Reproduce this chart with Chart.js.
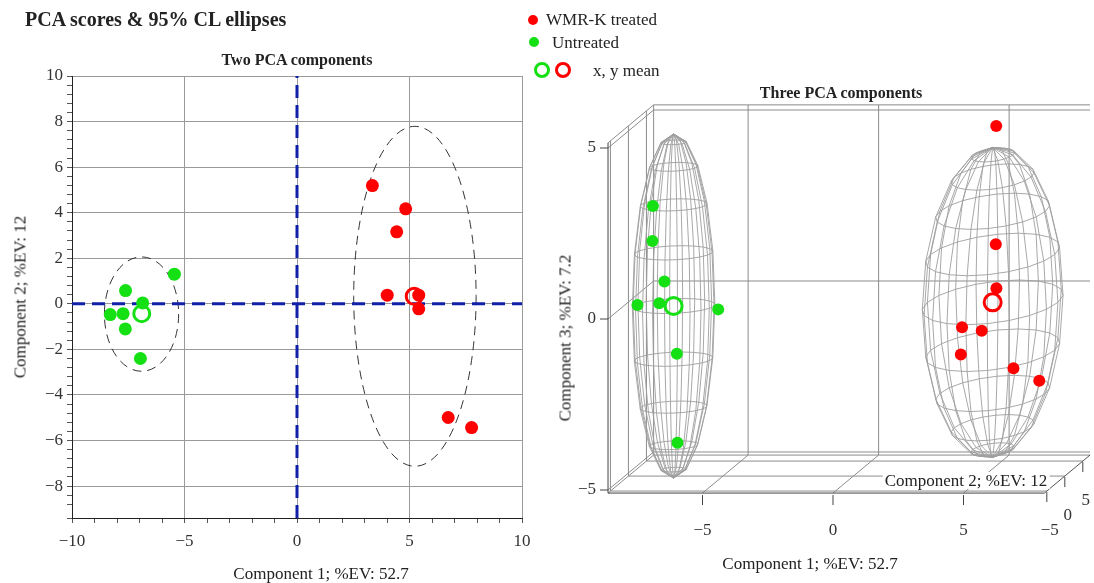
<!DOCTYPE html>
<html>
<head>
<meta charset="utf-8">
<script src="https://cdn.jsdelivr.net/npm/chart.js@4.4.1/dist/chart.umd.min.js"></script>
<style>
  body { margin: 0; background: #fff; font-family: "Liberation Serif", "Times New Roman", serif; color: #222; }
  #wrap { position: relative; width: 1094px; height: 583px; overflow: hidden; }
  canvas { position: absolute; }
  .t { position: absolute; white-space: nowrap; line-height: 1; }
  .dot { position: absolute; border-radius: 50%; }
  .ring { position: absolute; border-radius: 50%; box-sizing: border-box; border-style: solid; border-width: 3px; }
</style>
</head>
<body>
<div id="wrap">
  <canvas id="pca2d" width="545" height="583" style="left:0;top:0"></canvas>
  <canvas id="pca3d" width="534" height="503" style="left:560px;top:80px"></canvas>

  <div class="t" style="left:25px;top:9px;font-size:20px;font-weight:bold">PCA scores &amp; 95% CL ellipses</div>
  <div class="t" style="left:297px;top:52px;font-size:16px;font-weight:bold;transform:translateX(-50%)">Two PCA components</div>
  <div class="t" style="left:841px;top:85px;font-size:16px;font-weight:bold;transform:translateX(-50%)">Three PCA components</div>

  <!-- legend -->
  <div class="dot" style="left:528px;top:15px;width:10px;height:10px;background:#ff0000"></div>
  <div class="t" style="left:546px;top:11px;font-size:17px">WMR-K treated</div>
  <div class="dot" style="left:529px;top:37px;width:10px;height:10px;background:#14e014"></div>
  <div class="t" style="left:552px;top:34px;font-size:17px">Untreated</div>
  <div class="ring" style="left:534px;top:62px;width:16px;height:16px;border-color:#14e014"></div>
  <div class="ring" style="left:555px;top:62px;width:16px;height:16px;border-color:#ff0000"></div>
  <div class="t" style="left:593px;top:62px;font-size:17px">x, y mean</div>

  <!-- axis titles -->
  <div class="t" style="left:321px;top:565px;font-size:17px;transform:translateX(-50%)">Component 1; %EV: 52.7</div>
  <div class="t" style="left:20px;top:297px;font-size:17px;transform:translate(-50%,-50%) rotate(-90deg)">Component 2; %EV: 12</div>
  <div class="t" style="left:810px;top:555px;font-size:17px;transform:translateX(-50%)">Component 1; %EV: 52.7</div>
  <div class="t" style="left:565px;top:338px;font-size:17px;transform:translate(-50%,-50%) rotate(-90deg)">Component 3; %EV: 7.2</div>
  <div class="t" style="left:966px;top:472px;font-size:17px;transform:translateX(-50%);background:#fff;padding:0 2px">Component 2; %EV: 12</div>
</div>

<script>
// ---- 2D scores (component 1 / component 2) ----
const untreatedPC1 = [-8.3, -7.73, -7.63, -7.62, -6.96, -6.86, -5.45];
const untreatedPC2 = [-0.47, -0.43, -1.1, 0.58, -2.4, 0.04, 1.3];
const treatedPC1 = [3.35, 4.01, 4.43, 4.83, 5.41, 5.41, 6.72, 7.76];
const treatedPC2 = [5.19, 0.38, 3.16, 4.17, 0.38, -0.22, -4.99, -5.43];
// group means: [untreated, treated]
const meanPC1 = [-6.9, 5.21];
const meanPC2 = [-0.43, 0.33];
// 95% CL ellipses: [untreated, treated]
const ellipseCX = [-6.91, 5.24];
const ellipseCY = [-0.45, 0.33];
const ellipseRX = [1.65, 2.72];
const ellipseRY = [2.51, 7.46];
// tick labels
const xTickLabels2D = [-10, -5, 0, 5, 10];
const yTickLabels2D = [10, 8, 6, 4, 2, 0, -2, -4, -6, -8];

// ---- 3D scores (component 1 / 2 / 3) ----
const untreated3dPC1 = [-8.21, -7.64, -7.53, -7.52, -6.91, -6.77, -6.70, -5.36];
const untreated3dPC2 = [-0.47, -0.43, -1.1, 0.58, -2.4, 0.04, -0.3, 1.3];
const untreated3dPC3 = [-0.05, 1.82, 2.90, -0.09, 0.81, -1.52, -4.09, -0.33];
const treated3dPC1 = [3.40, 4.11, 4.48, 4.88, 5.42, 5.51, 6.82, 7.87];
const treated3dPC2 = [5.19, 0.38, 3.16, 4.17, 0.38, -0.22, -4.99, -5.43];
const treated3dPC3 = [-1.99, -0.77, -1.12, 1.32, 5.11, 0.42, -1.50, -1.83];
const mean3dPC1 = [-6.83, 5.29];
const mean3dPC2 = [-0.43, 0.33];
const mean3dPC3 = [-0.08, -0.04];
// ellipsoid semi axes: [untreated, treated]
const ellipsoidR1 = [1.55, 2.5];
const ellipsoidR2 = [2.51, 7.46];
const ellipsoidR3 = [5.03, 4.53];
const tickLabels3D = [-5, 0, 5];

const GREEN = "#14e014";
const RED = "#ff0000";
const BLUE = "#1020a8";
const FONT = "Liberation Serif";

const fmt = v => (v < 0 ? "\u2212" + Math.abs(v) : String(v));
const isIn = (arr, v) => arr.some(a => Math.abs(a - v) < 1e-6);

// ellipses drawn behind the points
const ellipsePlugin = {
  id: "ellipses",
  beforeDatasetsDraw(chart) {
    const { ctx, scales: { x, y } } = chart;
    ctx.save();
    ctx.strokeStyle = "#333";
    ctx.lineWidth = 1;
    ctx.setLineDash([9, 6]);
    ellipseCX.forEach((cx, i) => {
      const px = x.getPixelForValue(cx);
      const py = y.getPixelForValue(ellipseCY[i]);
      const rx = Math.abs(x.getPixelForValue(cx + ellipseRX[i]) - px);
      const ry = Math.abs(y.getPixelForValue(ellipseCY[i] + ellipseRY[i]) - py);
      ctx.beginPath();
      ctx.ellipse(px, py, rx, ry, 0, 0, Math.PI * 2);
      ctx.stroke();
    });
    ctx.restore();
  }
};

new Chart(document.getElementById("pca2d"), {
  type: "scatter",
  data: {
    datasets: [
      {
        label: "Untreated mean",
        data: [{ x: meanPC1[0], y: meanPC2[0] }],
        pointRadius: 8, pointBorderWidth: 3,
        borderColor: GREEN, backgroundColor: "rgba(0,0,0,0)"
      },
      {
        label: "Treated mean",
        data: [{ x: meanPC1[1], y: meanPC2[1] }],
        pointRadius: 8, pointBorderWidth: 3,
        borderColor: RED, backgroundColor: "rgba(0,0,0,0)"
      },
      {
        label: "Untreated",
        data: untreatedPC1.map((v, i) => ({ x: v, y: untreatedPC2[i] })),
        pointRadius: 6.5, borderWidth: 0, backgroundColor: GREEN
      },
      {
        label: "WMR-K treated",
        data: treatedPC1.map((v, i) => ({ x: v, y: treatedPC2[i] })),
        pointRadius: 6.5, borderWidth: 0, backgroundColor: RED
      },
      {
        label: "x = 0",
        data: [{ x: 0, y: -9.4 }, { x: 0, y: 10 }],
        showLine: true, pointRadius: 0, borderColor: BLUE, borderWidth: 3, borderDash: [13, 7]
      },
      {
        label: "y = 0",
        data: [{ x: -10, y: 0 }, { x: 10, y: 0 }],
        showLine: true, pointRadius: 0, borderColor: BLUE, borderWidth: 3, borderDash: [13, 7]
      }
    ]
  },
  options: {
    responsive: false,
    animation: false,
    layout: { padding: { top: 76, right: 23, left: 0, bottom: 0 }, autoPadding: false },
    plugins: { legend: { display: false }, tooltip: { enabled: false } },
    scales: {
      x: {
        type: "linear", min: -10, max: 10,
        ticks: {
          stepSize: 1, autoSkip: false, maxRotation: 0, padding: 8,
          color: "#333", font: { family: FONT, size: 17 },
          callback: v => (isIn(xTickLabels2D, v) ? fmt(v) : "")
        },
        grid: {
          color: c => (isIn(xTickLabels2D, c.tick.value) ? "#9a9a9a" : "rgba(0,0,0,0)"),
          tickColor: "#555", tickLength: 5
        },
        border: { color: "#222", width: 1 },
        afterFit: s => { s.height = 65; }
      },
      y: {
        type: "linear", min: -9.4, max: 10,
        ticks: {
          stepSize: 0.4, autoSkip: false, padding: 4,
          color: "#333", font: { family: FONT, size: 17 },
          callback: v => (isIn(yTickLabels2D, v) ? fmt(Math.round(v)) : "")
        },
        grid: {
          color: c => (isIn(yTickLabels2D, c.tick.value) || Math.abs(c.tick.value - 10) < 1e-6 ? "#9a9a9a" : "rgba(0,0,0,0)"),
          tickColor: "#555", tickLength: 5
        },
        border: { color: "#222", width: 1 },
        afterFit: s => { s.width = 72; }
      }
    }
  },
  plugins: [ellipsePlugin]
});

// ---- 3D view: oblique projection onto the canvas scales ----
const C1_LIM = [-8.62, 8.1];
const C2_LIM = [-5.67, 7.0];
const C3_LIM = [-5.09, 5.15];
const KX = 3.6 / 26.1;  // depth shift along x, in component-1 units
const KY = 3.0 / 34.2;  // depth shift along y, in component-3 units

function proj(a, b, c) {
  return { x: a + (b - C2_LIM[0]) * KX, y: c + (b - C2_LIM[0]) * KY };
}

function drawEllipsoid(ctx, P, cx, cy, cz, r1, r2, r3, nMer, nLat) {
  const phis = [];
  for (let j = 0; j <= nLat; j++) phis.push(Math.PI * j / nLat);
  const pt = (ph, th) => P(cx + r1 * Math.sin(ph) * Math.cos(th), cy + r2 * Math.sin(ph) * Math.sin(th), cz + r3 * Math.cos(ph));
  for (let k = 0; k < nMer; k++) {
    const th = 2 * Math.PI * k / nMer;
    ctx.beginPath();
    phis.forEach((ph, j) => {
      const [px, py] = pt(ph, th);
      if (j === 0) ctx.moveTo(px, py); else ctx.lineTo(px, py);
    });
    ctx.stroke();
  }
  for (let j = 1; j < nLat; j++) {
    ctx.beginPath();
    for (let k = 0; k <= nMer; k++) {
      const [px, py] = pt(phis[j], 2 * Math.PI * k / nMer);
      if (k === 0) ctx.moveTo(px, py); else ctx.lineTo(px, py);
    }
    ctx.stroke();
  }
}

const box3dPlugin = {
  id: "box3d",
  beforeDatasetsDraw(chart) {
    const { ctx, scales: { x, y } } = chart;
    const P = (a, b, c) => {
      const p = proj(a, b, c);
      return [x.getPixelForValue(p.x), y.getPixelForValue(p.y)];
    };
    const seg = (p, q, color) => {
      ctx.strokeStyle = color;
      ctx.beginPath();
      ctx.moveTo(p[0], p[1]);
      ctx.lineTo(q[0], q[1]);
      ctx.stroke();
    };
    const [a0, a1] = C1_LIM, [b0, b1] = C2_LIM, [c0, c1] = C3_LIM;
    const grey = "#8c8c8c";
    ctx.save();
    ctx.lineWidth = 1;

    // back wall, left wall and floor grid
    tickLabels3D.forEach(t => {
      seg(P(t, b1, c0), P(t, b1, c1), grey);
      seg(P(a0, b1, t), P(a1, b1, t), grey);
      seg(P(a0, t, c0), P(a0, t, c1), grey);
      seg(P(a0, b0, t), P(a0, b1, t), grey);
      seg(P(t, b0, c0), P(t, b1, c0), grey);
      seg(P(a0, t, c0), P(a1, t, c0), grey);
    });
    // box edges
    seg(P(a0, b0, c1), P(a0, b1, c1), grey);
    seg(P(a0, b1, c1), P(a1, b1, c1), grey);
    seg(P(a0, b1, c0), P(a0, b1, c1), grey);
    seg(P(a0, b1, c0), P(a1, b1, c0), grey);
    seg(P(a0, b0, c0), P(a0, b1, c0), grey);
    seg(P(a1, b0, c0), P(a1, b1, c0), "#555");
    seg(P(a0, b0, c0), P(a0, b0, c1), "#444");
    seg(P(a0, b0, c0), P(a1, b0, c0), "#444");

    // tick marks
    tickLabels3D.forEach(t => {
      const p3 = P(a0, b0, t);
      seg([p3[0] - 8, p3[1]], p3, "#444");
      const p1 = P(t, b0, c0);
      seg([p1[0], p1[1] + 2], [p1[0], p1[1] + 12], "#444");
      const p2 = P(a1, t, c0);
      seg([p2[0], p2[1] + 1], [p2[0], p2[1] + 11], "#444");
    });

    // ellipsoid wireframes
    ctx.strokeStyle = "#9e9e9e";
    ctx.lineWidth = 0.9;
    mean3dPC1.forEach((m, i) => {
      drawEllipsoid(ctx, P, m, mean3dPC2[i], mean3dPC3[i], ellipsoidR1[i], ellipsoidR2[i], ellipsoidR3[i], 20, 10);
    });
    ctx.restore();
  },
  afterDraw(chart) {
    const { ctx, scales: { x, y } } = chart;
    const P = (a, b, c) => {
      const p = proj(a, b, c);
      return [x.getPixelForValue(p.x), y.getPixelForValue(p.y)];
    };
    ctx.save();
    ctx.fillStyle = "#333";
    ctx.font = "17px \"" + FONT + "\"";
    ctx.textBaseline = "middle";
    tickLabels3D.forEach(t => {
      const p3 = P(C1_LIM[0], C2_LIM[0], t);
      ctx.textAlign = "right";
      ctx.fillText(fmt(t), p3[0] - 12, p3[1]);
      const p1 = P(t, C2_LIM[0], C3_LIM[0]);
      ctx.textAlign = "center";
      ctx.fillText(fmt(t), p1[0], p1[1] + 37);
      const p2 = P(C1_LIM[1], t, C3_LIM[0]);
      ctx.fillText(fmt(t), p2[0] + 3, p2[1] + 39);
    });
    ctx.restore();
  }
};

const yMin3d = -264 / 34.2, yMax3d = 239 / 34.2;
const xMin3d = -273 / 26.1, xMax3d = 261 / 26.1;

new Chart(document.getElementById("pca3d"), {
  type: "scatter",
  data: {
    datasets: [
      {
        label: "Untreated mean",
        data: [proj(mean3dPC1[0], mean3dPC2[0], mean3dPC3[0])],
        pointRadius: 8.5, pointBorderWidth: 3,
        borderColor: GREEN, backgroundColor: "rgba(0,0,0,0)"
      },
      {
        label: "Treated mean",
        data: [proj(mean3dPC1[1], mean3dPC2[1], mean3dPC3[1])],
        pointRadius: 8.5, pointBorderWidth: 3,
        borderColor: RED, backgroundColor: "rgba(0,0,0,0)"
      },
      {
        label: "Untreated",
        data: untreated3dPC1.map((v, i) => proj(v, untreated3dPC2[i], untreated3dPC3[i])),
        pointRadius: 6, borderWidth: 0, backgroundColor: GREEN
      },
      {
        label: "WMR-K treated",
        data: treated3dPC1.map((v, i) => proj(v, treated3dPC2[i], treated3dPC3[i])),
        pointRadius: 6, borderWidth: 0, backgroundColor: RED
      }
    ]
  },
  options: {
    responsive: false,
    animation: false,
    layout: { padding: 0, autoPadding: false },
    plugins: { legend: { display: false }, tooltip: { enabled: false } },
    scales: {
      x: { type: "linear", display: false, min: xMin3d, max: xMax3d },
      y: { type: "linear", display: false, min: yMin3d, max: yMax3d }
    }
  },
  plugins: [box3dPlugin]
});
</script>
</body>
</html>
